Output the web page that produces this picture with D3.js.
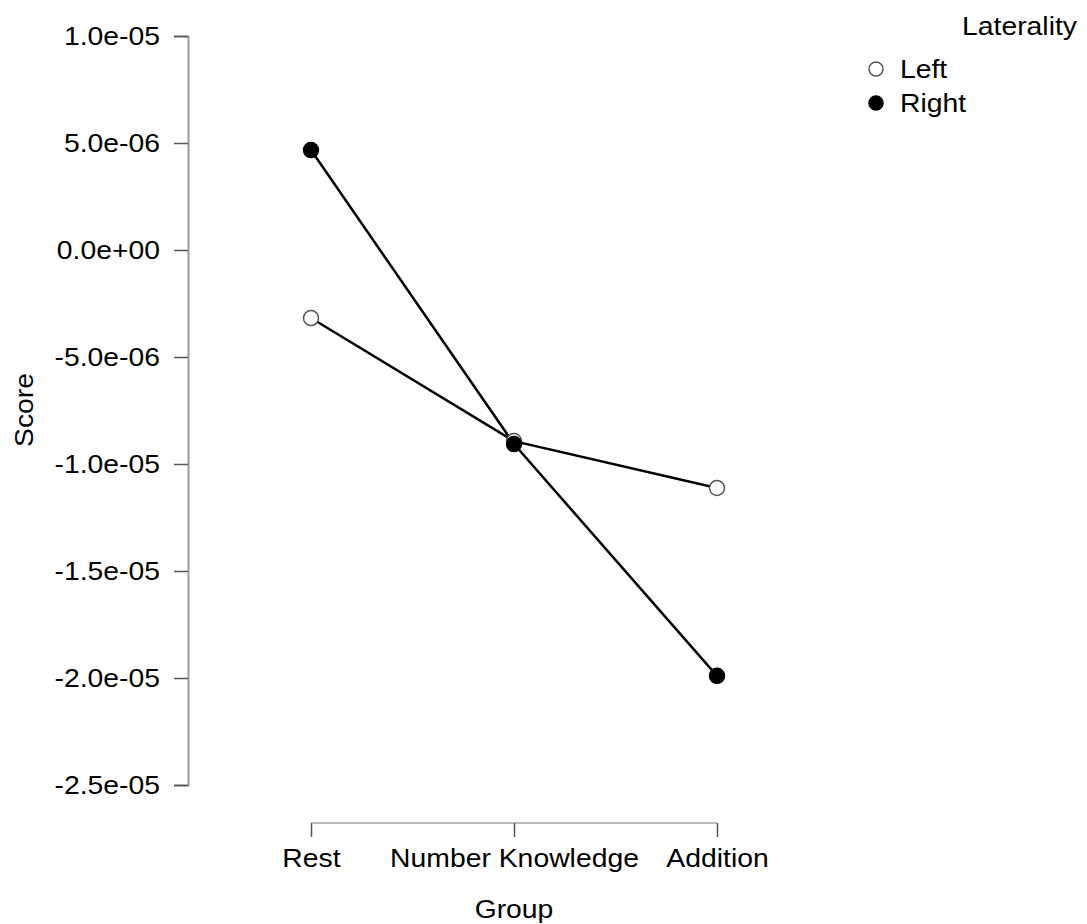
<!DOCTYPE html>
<html>
<head>
<meta charset="utf-8">
<script src="https://cdn.jsdelivr.net/npm/d3@7"></script>
<style>
  body { margin: 0; background: #fff; }
  text { font-family: "Liberation Sans", Arial, sans-serif; fill: #000; }
</style>
</head>
<body>
<script>
// data
const groups = ["Rest", "Number Knowledge", "Addition"];
const leftScores = [-3.18e-6, -8.93e-6, -1.112e-5];
const rightScores = [4.67e-6, -9.07e-6, -1.99e-5];
const yTicks = [1.0e-5, 5.0e-6, 0, -5.0e-6, -1.0e-5, -1.5e-5, -2.0e-5, -2.5e-5];
const yTickLabels = ["1.0e-05", "5.0e-06", "0.0e+00", "-5.0e-06", "-1.0e-05", "-1.5e-05", "-2.0e-05", "-2.5e-05"];

const series = [
  {name: "Left", values: leftScores, fill: "#fff"},
  {name: "Right", values: rightScores, fill: "#000"}
];

const width = 1087, height = 924;
const fontSize = 26;
const stretchX = 1.09; // the original text is a little wider than it is tall

const svg = d3.select("body").append("svg")
    .attr("width", width)
    .attr("height", height);

// widen text horizontally, keeping its anchor point where it was
function stretch(sel) {
  sel.each(function() {
    const t = d3.select(this);
    const tx = +t.attr("x") || 0;
    t.attr("x", tx / stretchX)
     .attr("transform", (t.attr("transform") || "") + ` scale(${stretchX},1)`);
  });
}

// scales
const x = d3.scalePoint()
    .domain(groups)
    .range([311, 717]);
const y = d3.scaleLinear()
    .domain([-2.5e-5, 1.0e-5])
    .range([785, 36]);

// y axis
const yAxis = svg.append("g")
    .attr("transform", "translate(188,0)")
    .call(d3.axisLeft(y)
      .tickValues(yTicks)
      .tickFormat((d, i) => yTickLabels[i])
      .tickSizeOuter(0)
      .tickSize(14)
      .tickPadding(14));
yAxis.select(".domain").attr("stroke", "#9a9a9a").attr("stroke-width", 2);
yAxis.selectAll(".tick line").attr("stroke", "#555").attr("stroke-width", 1.5);
yAxis.selectAll(".tick text")
    .attr("font-size", fontSize)
    .attr("font-family", "Liberation Sans, Arial, sans-serif")
    .attr("fill", "#000")
    .call(stretch);

// x axis
const xAxis = svg.append("g")
    .attr("transform", "translate(0,823)")
    .call(d3.axisBottom(x).tickSizeOuter(0).tickSize(14).tickPadding(12));
xAxis.select(".domain").attr("stroke", "#bbb").attr("stroke-width", 2)
    .attr("d", `M${x(groups[0])},0H${x(groups[groups.length - 1])}`);
xAxis.selectAll(".tick line").attr("stroke", "#555").attr("stroke-width", 1.5);
xAxis.selectAll(".tick text")
    .attr("font-size", fontSize)
    .attr("font-family", "Liberation Sans, Arial, sans-serif")
    .attr("fill", "#000")
    .call(stretch);

// axis titles
svg.append("text")
    .attr("x", 514).attr("y", 918)
    .attr("text-anchor", "middle")
    .attr("font-size", fontSize)
    .text("Group")
    .call(stretch);
svg.append("text")
    .attr("transform", "translate(33,410) rotate(-90)")
    .attr("text-anchor", "middle")
    .attr("font-size", fontSize)
    .text("Score")
    .call(stretch);

// lines
const line = d3.line()
    .x((d, i) => x(groups[i]))
    .y(d => y(d));

svg.selectAll(".series-line")
    .data(series)
  .enter().append("path")
    .attr("class", "series-line")
    .attr("d", d => line(d.values))
    .attr("fill", "none")
    .attr("stroke", "#000")
    .attr("stroke-width", 2.5);

// points
series.forEach(s => {
  svg.selectAll(".pt-" + s.name)
      .data(s.values)
    .enter().append("circle")
      .attr("cx", (d, i) => x(groups[i]))
      .attr("cy", d => y(d))
      .attr("r", 7.5)
      .attr("fill", s.fill)
      .attr("stroke", s.name === "Left" ? "#555" : "#000")
      .attr("stroke-width", 1.5);
});

// legend
svg.append("text")
    .attr("x", 1077).attr("y", 35)
    .attr("text-anchor", "end")
    .attr("font-size", fontSize)
    .text("Laterality")
    .call(stretch);

const legend = svg.selectAll(".legend")
    .data(series)
  .enter().append("g")
    .attr("transform", (d, i) => `translate(876,${69 + i * 34})`);
legend.append("circle")
    .attr("r", 7)
    .attr("fill", d => d.fill)
    .attr("stroke", d => d.name === "Left" ? "#555" : "#000")
    .attr("stroke-width", 1.5);
legend.append("text")
    .attr("x", 24).attr("y", 9)
    .attr("font-size", fontSize)
    .text(d => d.name)
    .call(stretch);
</script>
</body>
</html>
